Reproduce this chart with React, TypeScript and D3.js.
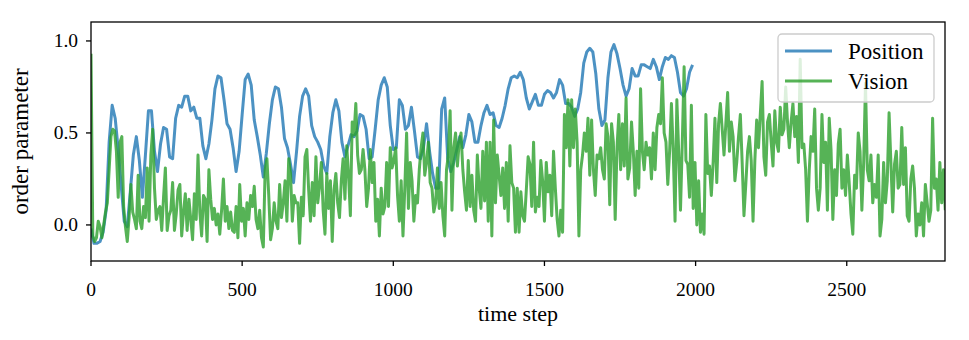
import React from 'react';
import * as d3 from 'd3';

// values
const POSITION_STEP = 10; // one value every 10 time steps, t = 0 .. 1990
const POSITION = [
  -0.02, -0.10, -0.10, -0.09, -0.04, 0.08, 0.45, 0.65, 0.58, 0.41,
  0.21, 0.02, -0.01, 0.18, 0.38, 0.48, 0.35, 0.15, 0.38, 0.62,
  0.62, 0.40, 0.29, 0.44, 0.53, 0.52, 0.37, 0.36, 0.58, 0.65,
  0.64, 0.70, 0.70, 0.62, 0.64, 0.58, 0.58, 0.43, 0.36, 0.44,
  0.57, 0.74, 0.81, 0.80, 0.68, 0.55, 0.52, 0.42,
  0.29, 0.40, 0.60, 0.79, 0.82, 0.76, 0.57, 0.48, 0.38, 0.26,
  0.39, 0.55, 0.68, 0.75, 0.74, 0.64, 0.47, 0.42, 0.33, 0.23,
  0.40, 0.59, 0.70, 0.74, 0.70, 0.54, 0.48, 0.45, 0.41, 0.32,
  0.28, 0.48, 0.61, 0.68, 0.62, 0.45, 0.37, 0.43, 0.49, 0.48,
  0.51, 0.60, 0.59, 0.52, 0.36, 0.37, 0.52,
  0.68, 0.76, 0.80, 0.75, 0.54, 0.41, 0.42, 0.68, 0.65, 0.52,
  0.54, 0.64, 0.51, 0.37, 0.36, 0.42, 0.55, 0.40, 0.28, 0.20,
  0.20, 0.63, 0.69, 0.36, 0.29, 0.34, 0.41, 0.48, 0.42, 0.49,
  0.60, 0.56, 0.45, 0.45, 0.54, 0.61, 0.65, 0.60, 0.61, 0.54,
  0.53, 0.58, 0.65, 0.74, 0.80, 0.81, 0.80,
  0.83, 0.79, 0.69, 0.63, 0.67, 0.71, 0.65, 0.65, 0.71, 0.73,
  0.72, 0.69, 0.72, 0.79, 0.76, 0.66, 0.66, 0.64, 0.59, 0.63,
  0.72, 0.88, 0.94, 0.96, 0.94, 0.82, 0.63, 0.54, 0.57, 0.80,
  0.94, 0.98, 0.93, 0.85, 0.76, 0.70, 0.74, 0.85, 0.81, 0.81,
  0.87, 0.87, 0.86, 0.85, 0.90, 0.86, 0.79,
  0.86, 0.91, 0.90, 0.92, 0.91, 0.83, 0.72, 0.70, 0.74, 0.83, 0.87,
];

const VISION_STEP = 6; // one value every 6 time steps, t = 0 .. 2826
const VISION = [
  0.93, -0.06, -0.09, -0.07, 0.02, -0.01, -0.07, 0.00, 0.07, 0.12,
  0.30, 0.48, 0.52, 0.51, 0.40, 0.15, 0.45, 0.48, 0.10, -0.01,
  -0.09, 0.04, 0.22, 0.07, 0.03, -0.02, 0.27, 0.02, -0.02, 0.10,
  0.04, 0.31, 0.02, 0.38, 0.52, 0.20, 0.03, 0.08, 0.10, -0.03,
  0.15, 0.31, -0.03, 0.05, 0.08, 0.23, -0.03, 0.06, 0.19, 0.22,
  -0.06, 0.07, 0.17, -0.03, 0.14, 0.03, -0.08, 0.17, 0.03, 0.38,
  0.07, -0.06, 0.16, 0.14, -0.09, 0.30, 0.14, 0.03, 0.09, 0.00,
  0.06, -0.05, 0.08, 0.25, 0.02, 0.10, -0.02, 0.07, -0.03,
  -0.04, 0.10, -0.07, 0.22, 0.02, 0.09, -0.06, 0.12, 0.03, 0.16,
  0.10, 0.21, 0.03, -0.02, 0.08, -0.07, -0.12, 0.30, 0.36, 0.16,
  -0.08, -0.02, 0.12, 0.02, -0.02, 0.22, 0.04, 0.12, 0.24, 0.02,
  0.36, 0.28, 0.02, 0.16, 0.12, 0.12, -0.10, 0.15, 0.05, 0.37,
  0.41, 0.19, 0.02, 0.23, 0.05, 0.37, 0.12, 0.21, 0.34, 0.08,
  -0.05, 0.28, 0.09, 0.24, -0.09, 0.19, 0.28, 0.12, 0.04, 0.24,
  0.36, 0.14, 0.43, 0.27, 0.05, 0.56, 0.49, 0.66, 0.38, 0.28,
  0.30, 0.41, 0.30, 0.10, 0.20, 0.41, 0.23, 0.34,
  0.02, 0.14, -0.06, 0.20, 0.06, 0.10, 0.34, 0.10, 0.42, 0.31,
  0.35, 0.42, 0.16, 0.02, 0.24, -0.06, 0.20, 0.50, 0.09, 0.34,
  0.24, 0.02, 0.16, 0.12, 0.30, 0.42, 0.50, 0.27, 0.34, 0.45,
  0.23, 0.20, 0.07, 0.12, 0.31, 0.09, 0.23, 0.05, -0.06, 0.30,
  0.38, 0.62, 0.08, 0.42, 0.50, 0.32, 0.45, 0.50, 0.30, 0.18,
  0.08, 0.35, 0.10, 0.27, 0.08, 0.02, 0.38, 0.20, 0.09, 0.40,
  0.13, 0.45, 0.02, 0.45, -0.06, 0.57, 0.12, 0.38, 0.27, 0.16,
  0.31, 0.09, 0.34, 0.02, 0.43, 0.23, 0.20, -0.04, 0.20,
  -0.04, 0.18, 0.05, 0.02, 0.19, 0.37, 0.33, 0.10, 0.45, 0.07,
  0.15, 0.10, 0.35, 0.24, 0.02, 0.34, 0.18, 0.27, 0.05, 0.40,
  0.20, 0.03, -0.06, 0.08, -0.04, 0.60, 0.42, 0.68, 0.32, 0.68,
  0.42, 0.63, 0.45, -0.06, 0.30, 0.38, 0.50, 0.40, 0.58, 0.27,
  0.57, 0.30, 0.16, 0.38, 0.36, 0.42, 0.30, 0.25, 0.55, 0.48,
  0.11, 0.55, 0.45, 0.03, 0.42, 0.60, 0.30, 0.55, 0.32, 0.69,
  0.25, 0.31, 0.56, 0.40, 0.16, 0.40, 0.20, 0.74, 0.40, 0.30,
  0.45, 0.38, 0.42, 0.25, 0.50, 0.30, 0.53, 0.60,
  0.55, 0.80, 0.50, 0.45, 0.22, 0.40, 0.66, 0.40, 0.02, 0.68,
  0.40, 0.08, 0.45, 0.86, 0.35, 0.33, 0.15, 0.65, 0.09, 0.34,
  0.00, 0.24, -0.04, 0.06, -0.05, 0.60, 0.28, 0.32, 0.16, 0.34,
  0.58, 0.23, 0.55, 0.66, 0.52, 0.38, 0.55, 0.72, 0.40, 0.56,
  0.48, 0.24, 0.34, 0.48, 0.60, 0.34, 0.05, 0.22, 0.40, 0.48,
  0.35, 0.02, 0.35, 0.57, 0.42, 0.60, 0.78, 0.37, 0.27, 0.56,
  0.60, 0.45, 0.32, 0.62, 0.45, 0.40, 0.64, 0.49, 0.52, 0.75,
  0.56, 0.42, 0.56, 0.66, 0.48, 0.59, 0.34, 0.90, 0.42,
  0.44, 0.30, 0.02, 0.30, 0.48, 0.40, 0.63, 0.20, 0.08, 0.20,
  0.60, 0.34, 0.45, 0.08, 0.58, 0.41, 0.03, 0.30, 0.16, 0.44,
  0.52, 0.20, 0.30, 0.16, 0.38, 0.23, 0.06, -0.05, 0.27, 0.20,
  0.50, 0.40, 0.08, 0.34, 0.77, 0.30, 0.24, 0.38, 0.12, 0.22,
  0.15, 0.38, -0.06, 0.03, 0.34, 0.12, 0.24, 0.61, 0.34, 0.07,
  0.33, 0.40, 0.20, 0.22, 0.53, 0.22, 0.42, 0.05, 0.02, 0.25,
  0.32, 0.20, -0.06, 0.06, 0.00, 0.12, -0.06, 0.22, 0.12, 0.02,
  0.08, 0.58, 0.20, 0.25, 0.08, 0.34, 0.12, 0.30, 0.08,
];

const SERIES_NAMES = ['Position', 'Vision'];
const SERIES_COLORS = ['#1f77b4', '#2ca02c'];
const X_TICKS = [0, 500, 1000, 1500, 2000, 2500];
const Y_TICKS = [0.0, 0.5, 1.0];
const X_LABEL = 'time step';
const Y_LABEL = 'order parameter';

const W = 969;
const H = 340;
const PLOT = { left: 91, right: 945, top: 22, bottom: 261 };
const FONT = '"Liberation Serif", "DejaVu Serif", serif';

export default function App() {
  const x = d3.scaleLinear().domain([0, 2825]).range([PLOT.left, PLOT.right]);
  const y = d3.scaleLinear().domain([-0.196, 1.103]).range([PLOT.bottom, PLOT.top]);

  const makeLine = (step: number) =>
    d3.line<number>()
      .x((_, i) => x(i * step))
      .y(d => y(d));

  const series = [
    { values: POSITION, step: POSITION_STEP },
    { values: VISION, step: VISION_STEP },
  ];

  const legendX = 778;
  const legendY = 34;

  return (
    <svg
      width={W}
      height={H}
      style={{ position: 'absolute', left: 0, top: 0, background: '#fff' }}
      fontFamily={FONT}
    >
      <defs>
        <clipPath id="plot-clip">
          <rect x={PLOT.left} y={PLOT.top} width={PLOT.right - PLOT.left} height={PLOT.bottom - PLOT.top} />
        </clipPath>
      </defs>

      <g clipPath="url(#plot-clip)">
        {series.map((s, k) => (
          <path
            key={SERIES_NAMES[k]}
            d={makeLine(s.step)(s.values) || ''}
            fill="none"
            stroke={SERIES_COLORS[k]}
            strokeOpacity={0.8}
            strokeWidth={3}
            strokeLinejoin="round"
          />
        ))}
      </g>

      {/* spines */}
      <rect
        x={PLOT.left}
        y={PLOT.top}
        width={PLOT.right - PLOT.left}
        height={PLOT.bottom - PLOT.top}
        fill="none"
        stroke="#000"
        strokeWidth={1.3}
      />

      {/* x axis */}
      {X_TICKS.map(t => (
        <g key={t} transform={`translate(${x(t)},${PLOT.bottom})`}>
          <line y2={5} stroke="#000" strokeWidth={1.3} />
          <text y={35} textAnchor="middle" fontSize={19.5}>{t}</text>
        </g>
      ))}
      <text x={(PLOT.left + PLOT.right) / 2} y={321} textAnchor="middle" fontSize={22}>{X_LABEL}</text>

      {/* y axis */}
      {Y_TICKS.map(t => (
        <g key={t} transform={`translate(${PLOT.left},${y(t)})`}>
          <line x2={-5} stroke="#000" strokeWidth={1.3} />
          <text x={-13} y={6.5} textAnchor="end" fontSize={19.5}>{t.toFixed(1)}</text>
        </g>
      ))}
      <text
        transform={`translate(28,${(PLOT.top + PLOT.bottom) / 2}) rotate(-90)`}
        textAnchor="middle"
        fontSize={23}
      >
        {Y_LABEL}
      </text>

      {/* legend */}
      <g transform={`translate(${legendX},${legendY})`}>
        <rect
          width={156}
          height={68}
          rx={4}
          fill="#fff"
          fillOpacity={0.8}
          stroke="#cccccc"
          strokeWidth={1.3}
        />
        {SERIES_NAMES.map((name, k) => (
          <g key={name} transform={`translate(0,${17 + k * 30})`}>
            <line x1={7} x2={54} stroke={SERIES_COLORS[k]} strokeOpacity={0.8} strokeWidth={3} />
            <text x={70} y={7.5} fontSize={23}>{name}</text>
          </g>
        ))}
      </g>
    </svg>
  );
}
